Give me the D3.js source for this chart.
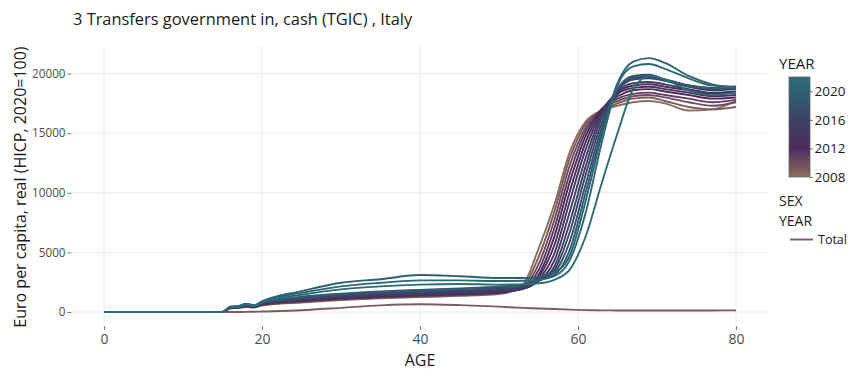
<!DOCTYPE html>
<html>
<head>
<meta charset="utf-8">
<script src="https://cdn.jsdelivr.net/npm/d3@7/dist/d3.min.js"></script>
<style>
  html, body { margin: 0; padding: 0; background: #fff; }
  svg { display: block; font-family: "Open Sans", Verdana, sans-serif; }
</style>
</head>
<body>
<svg id="chart" width="848" height="370"></svg>
<script>
// Ages at which the per-capita transfer profile is sampled
const ages = [0, 15, 16, 17, 18, 19, 20, 25, 30, 35, 40, 45, 50, 53, 55, 57, 59, 61, 63, 65, 67, 69, 71, 74, 77, 80];

// Euro per capita, real (HICP, 2020=100), one profile per year
const years = [2008, 2009, 2010, 2011, 2012, 2013, 2014, 2015, 2016, 2017, 2018, 2019, 2020, 2021, 2022];
const v2008 = [0,0,300,350,420,380,550,800,1000,1150,1250,1350,1500, 2300,5300,9000,13500,16000,16900,17300,17600,17700,17500,16900,17000,17700];
const v2009 = [0,0,320,360,450,400,580,850,1050,1200,1300,1400,1550, 2150,4600,8400,13000,15800,16900,17500,17900,18000,17700,17200,17000,17200];
const v2010 = [0,0,330,370,470,410,600,880,1080,1230,1330,1430,1580, 2050,4000,7700,12400,15500,17000,17700,18100,18200,18000,17600,17300,17600];
const v2011 = [0,0,340,380,480,420,620,900,1100,1260,1360,1460,1620, 2000,3500,7000,11700,15200,17000,17900,18300,18400,18200,17900,17600,17800];
const v2012 = [0,0,350,390,500,430,640,930,1130,1290,1400,1500,1660, 1950,3100,6300,11000,14800,17000,18100,18600,18700,18500,18200,17900,18000];
const v2013 = [0,0,360,400,520,440,660,960,1170,1330,1440,1540,1700, 1950,2900,5600,10200,14300,16900,18300,18800,18900,18700,18400,18100,18200];
const v2014 = [0,0,370,410,540,450,680,1000,1210,1370,1480,1580,1750, 1950,2700,4900,9400,13700,16800,18400,19000,19100,18900,18600,18300,18400];
const v2015 = [0,0,380,420,560,460,700,1040,1250,1410,1530,1630,1800, 1980,2600,4300,8500,13000,16600,18500,19200,19300,19100,18700,18400,18500];
const v2016 = [0,0,390,430,580,470,720,1090,1310,1470,1600,1700,1880, 2050,2600,3800,7600,12300,16300,18600,19500,19600,19400,18900,18600,18700];
const v2017 = [0,0,400,440,600,480,740,1140,1370,1540,1680,1780,1960, 2120,2600,3500,6800,11600,15900,18600,19600,19700,19500,19000,18700,18800];
const v2018 = [0,0,410,450,620,490,770,1200,1450,1620,1760,1870,2050, 2200,2650,3300,6000,10800,15500,18700,19700,19800,19500,19000,18800,18900];
const v2019 = [0,0,420,460,640,500,800,1280,1540,1720,1860,1980,2150, 2300,2700,3100,5300,10100,15100,18700,19800,19900,19500,19000,18800,18900];
const v2020 = [0,0,450,500,700,560,900,1750,2450,2750,3100,3000,2850, 2850,2950,3300,4800,9400,14800,19200,21000,21300,20900,19800,19100,18800];
const v2021 = [0,0,440,480,680,540,870,1600,2150,2450,2650,2650,2600, 2620,2700,3000,4400,8400,14200,19000,20600,20800,20400,19600,19000,18900];
const v2022 = [0,0,430,470,660,520,840,1450,1900,2150,2300,2350,2300, 2320,2400,2700,3600,6400,10800,15000,18700,19800,19500,18600,18200,18400];
const profiles = [v2008, v2009, v2010, v2011, v2012, v2013, v2014, v2015, v2016, v2017, v2018, v2019, v2020, v2021, v2022];

// Low profile drawn in the early-year colour
const lowYear = 2009;
const lowProfile = [0,0,0,0,10,20,40,150,350,560,650,580,450, 350,300,250,200,160,140,130,120,120,120,120,130,140];

// Axis ticks and labels
const xTicks = [0, 20, 40, 60, 80];
const yTicks = [0, 5000, 10000, 15000, 20000];
const barTicks = [2008, 2012, 2016, 2020];
const titleText = "3 Transfers government in, cash (TGIC) , Italy";
const xTitle = "AGE";
const yTitle = "Euro per capita, real (HICP, 2020=100)";
const legendTitle = "YEAR";
const sexTitle = ["SEX", "YEAR"];
const sexLabel = "Total";

const svg = d3.select("#chart");

const x = d3.scaleLinear().domain([-4, 84]).range([72.4, 767.6]);
const y = d3.scaleLinear().domain([-1065, 22365]).range([324.7, 45.4]);

const colorStops = [2008, 2012, 2016, 2020, 2022];
const color = d3.scaleLinear()
  .domain(colorStops)
  .range(["#8b6e5f", "#4e2b5c", "#3e4066", "#2f6174", "#2b6c77"])
  .interpolate(d3.interpolateRgb);

// Grid
const grid = svg.append("g");
grid.selectAll("line.vx").data(xTicks).join("line")
  .attr("x1", d => x(d)).attr("x2", d => x(d))
  .attr("y1", y.range()[1]).attr("y2", y.range()[0])
  .attr("stroke", "#ebebeb").attr("stroke-width", 1);
grid.selectAll("line.hy").data(yTicks).join("line")
  .attr("x1", x.range()[0]).attr("x2", x.range()[1])
  .attr("y1", d => y(d)).attr("y2", d => y(d))
  .attr("stroke", "#ebebeb").attr("stroke-width", 1);

// Axes
const xAxis = d3.axisBottom(x).tickValues(xTicks).tickSize(3.7).tickPadding(4);
svg.append("g").attr("transform", `translate(0,${y.range()[0] + 1.5})`).call(xAxis)
  .call(g => g.select(".domain").remove())
  .call(g => g.selectAll(".tick line").attr("stroke", "#333").attr("stroke-width", 0.7))
  .call(g => g.selectAll("text").attr("fill", "#4d4d4d").style("font-size", "14px").style("font-family", "Open Sans"));

const yAxis = d3.axisLeft(y).tickValues(yTicks).tickFormat(d3.format("d")).tickSize(3.7).tickPadding(2);
svg.append("g").attr("transform", `translate(${x.range()[0] - 1.2},0)`).call(yAxis)
  .call(g => g.select(".domain").remove())
  .call(g => g.selectAll(".tick line").attr("stroke", "#333").attr("stroke-width", 0.7))
  .call(g => g.selectAll("text").attr("fill", "#4d4d4d").style("font-size", "11.7px").style("font-family", "Open Sans"));

// Lines
const line = d3.line()
  .x((d, i) => x(ages[i]))
  .y(d => y(d))
  .curve(d3.curveMonotoneX);

const series = [{ year: lowYear, values: lowProfile }]
  .concat(years.map((yr, i) => ({ year: yr, values: profiles[i] })));

svg.append("g").selectAll("path").data(series).join("path")
  .attr("d", d => line(d.values))
  .attr("fill", "none")
  .attr("stroke", d => color(d.year))
  .attr("stroke-width", 1.9)
  .attr("stroke-linejoin", "round");

// Titles
svg.append("text").attr("x", 73).attr("y", 25)
  .attr("fill", "#1a1a1a").style("font-size", "16.4px").text(titleText);
svg.append("text").attr("x", (x.range()[0] + x.range()[1]) / 2).attr("y", 366)
  .attr("text-anchor", "middle").attr("fill", "#1a1a1a").style("font-size", "16px").text(xTitle);
svg.append("text")
  .attr("transform", `translate(26,${(y.range()[0] + y.range()[1]) / 2 + 2}) rotate(-90)`)
  .attr("text-anchor", "middle").attr("fill", "#1a1a1a").style("font-size", "16px").text(yTitle);

// Colour bar legend
const bar = { x: 789, y: 77, w: 21, h: 100 };
const barScale = d3.scaleLinear().domain([2008, 2022]).range([bar.y + bar.h, bar.y]);
const defs = svg.append("defs");
const grad = defs.append("linearGradient").attr("id", "yearGrad")
  .attr("x1", 0).attr("y1", 1).attr("x2", 0).attr("y2", 0);
grad.selectAll("stop").data(colorStops).join("stop")
  .attr("offset", d => (d - 2008) / (2022 - 2008))
  .attr("stop-color", d => color(d));

svg.append("text").attr("x", 779).attr("y", 69)
  .attr("fill", "#1a1a1a").style("font-size", "15px").text(legendTitle);
svg.append("rect").attr("x", bar.x).attr("y", bar.y).attr("width", bar.w).attr("height", bar.h)
  .attr("fill", "url(#yearGrad)").attr("stroke", "#666").attr("stroke-width", 0.8);
const barAxis = d3.axisRight(barScale).tickValues(barTicks).tickFormat(d3.format("d")).tickSize(3).tickPadding(1.5);
svg.append("g").attr("transform", `translate(${bar.x + bar.w},0)`).call(barAxis)
  .call(g => g.select(".domain").remove())
  .call(g => g.selectAll(".tick line").attr("stroke", "#444").attr("stroke-width", 0.7))
  .call(g => g.selectAll("text").attr("fill", "#1a1a1a").style("font-size", "13.5px").style("font-family", "Open Sans"));

// Line legend
svg.selectAll("text.sex").data(sexTitle).join("text").attr("class", "sex")
  .attr("x", 779).attr("y", (d, i) => 206 + i * 19.5)
  .attr("fill", "#1a1a1a").style("font-size", "14px").text(d => d);
svg.append("line").attr("x1", 790).attr("x2", 813).attr("y1", 239.5).attr("y2", 239.5)
  .attr("stroke", color(lowYear)).attr("stroke-width", 1.9);
svg.append("text").attr("x", 818).attr("y", 244)
  .attr("fill", "#1a1a1a").style("font-size", "12.5px").text(sexLabel);
</script>
</body>
</html>
